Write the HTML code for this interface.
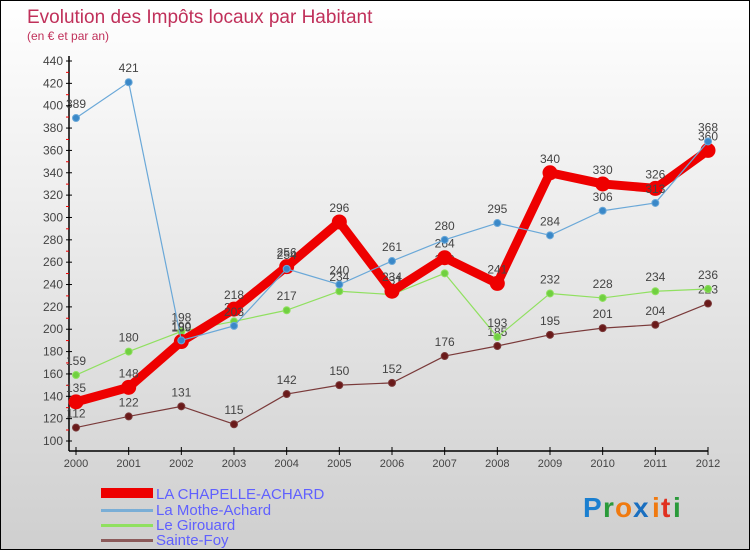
<!DOCTYPE html>
<html><head><meta charset="utf-8"><style>
body{margin:0;}
#wrap{width:750px;height:550px;position:relative;box-sizing:border-box;border:1px solid #000;background:linear-gradient(#ffffff,#cfcfcf);font-family:"Liberation Sans",sans-serif;overflow:hidden}
</style></head><body>
<div id="wrap">
<svg id="chart" width="750" height="550" style="position:absolute;left:0;top:0">
<text x="26" y="22" font-size="19" fill="#c0305a">Evolution des Impôts locaux par Habitant</text>
<text x="26" y="39" font-size="12" fill="#c0305a">(en € et par an)</text>
<g id="axes"></g><g id="series"></g>
<g>
<rect x="100" y="487" width="52" height="10" fill="#e00"/>
<text x="155" y="498" font-size="15" fill="#6060ff">LA CHAPELLE-ACHARD</text>
<rect x="100" y="508" width="52" height="3" fill="#7aaed6"/>
<text x="155" y="514" font-size="15" fill="#6060ff">La Mothe-Achard</text>
<rect x="100" y="523" width="52" height="3" fill="#90e060"/>
<text x="155" y="529" font-size="15" fill="#6060ff">Le Girouard</text>
<rect x="100" y="538" width="52" height="3" fill="#8b5a5a"/>
<text x="155" y="544" font-size="15" fill="#6060ff">Sainte-Foy</text>
</g>
<g font-size="28" font-weight="bold">
<text x="582" y="516" fill="#1a7fd0">P</text><text x="602" y="516" fill="#2a9a3a">r</text><text x="614" y="516" fill="#f07a10">o</text><text x="632" y="516" fill="#1a6fc0">x</text><text x="651" y="516" fill="#f07a10">i</text><text x="660" y="516" fill="#e03020">t</text><text x="672" y="516" fill="#2a9a3a">i</text>
</g>
</svg>
</div>
<script>
const years=[2000,2001,2002,2003,2004,2005,2006,2007,2008,2009,2010,2011,2012];
const yTicks=[100,120,140,160,180,200,220,240,260,280,300,320,340,360,380,400,420,440];
const chapelle=[135,148,189,218,256,296,234,264,241,340,330,326,360];
const mothe=[389,421,190,203,254,240,261,280,295,284,306,313,368];
const girouard=[159,180,198,207,217,234,231,250,193,232,228,234,236];
const sainteFoy=[112,122,131,115,142,150,152,176,185,195,201,204,223];
const NS="http://www.w3.org/2000/svg";
function xs(i){return 75+i*(707-75)/12;}
function ys(v){return 440-(v-100)*380/340;}
function mk(t,a,p){const e=document.createElementNS(NS,t);for(const k in a)e.setAttribute(k,a[k]);p.appendChild(e);return e;}
const ax=document.getElementById('axes');
let l=mk('line',{x1:68,y1:55,x2:68,y2:450,stroke:'#000','stroke-width':1.5},ax);


l=mk('line',{x1:68,y1:450,x2:707,y2:450,stroke:'#000','stroke-width':1.5},ax);


yTicks.forEach(v=>{const y=ys(v);
 mk('line',{x1:65,y1:y,x2:71,y2:y,stroke:'#000'},ax);
 if(v<440)mk('line',{x1:65,y1:y-11,x2:68,y2:y-11,stroke:'#e00'},ax);
 const t=mk('text',{x:62,y:y+4,'text-anchor':'end','font-size':12,fill:'#444'},ax);t.textContent=v;
 
 });
years.forEach((yr,i)=>{const x=xs(i);
 mk('line',{x1:x,y1:446,x2:x,y2:454,stroke:'#000'},ax);
 const t=mk('text',{x:x,y:466,'text-anchor':'middle','font-size':11,fill:'#444'},ax);t.textContent=yr;
 
 });
const sg=document.getElementById('series');
function draw(data,name,color,w,r,dot){
 const g=mk('g',{},sg);
 
 
 const pts=data.map((v,i)=>xs(i)+','+ys(v)).join(' ');
 const pl=mk('polyline',{points:pts,fill:'none',stroke:color,'stroke-width':w,'stroke-linejoin':'round'},g);
 
 
 data.forEach((v,i)=>{const c=mk('circle',{cx:xs(i),cy:ys(v),r:r,fill:dot,stroke:color,'stroke-width':1},g);
  
  
  const t=mk('text',{x:xs(i),y:ys(v)-10,'text-anchor':'middle','font-size':12,fill:'#444'},g);t.textContent=v;
  
  });
}
draw(sainteFoy,'sainte-foy','#7a3a3a',1.2,3.5,'#6a1a1a');
draw(girouard,'le-girouard','#90e060',1.2,3.5,'#70d040');
draw(chapelle,'la-chapelle-achard','#e00',9,7,'#e00');
draw(mothe,'la-mothe-achard','#6aa8d8',1.2,3.5,'#3a88c8');
</script>
</body></html>
